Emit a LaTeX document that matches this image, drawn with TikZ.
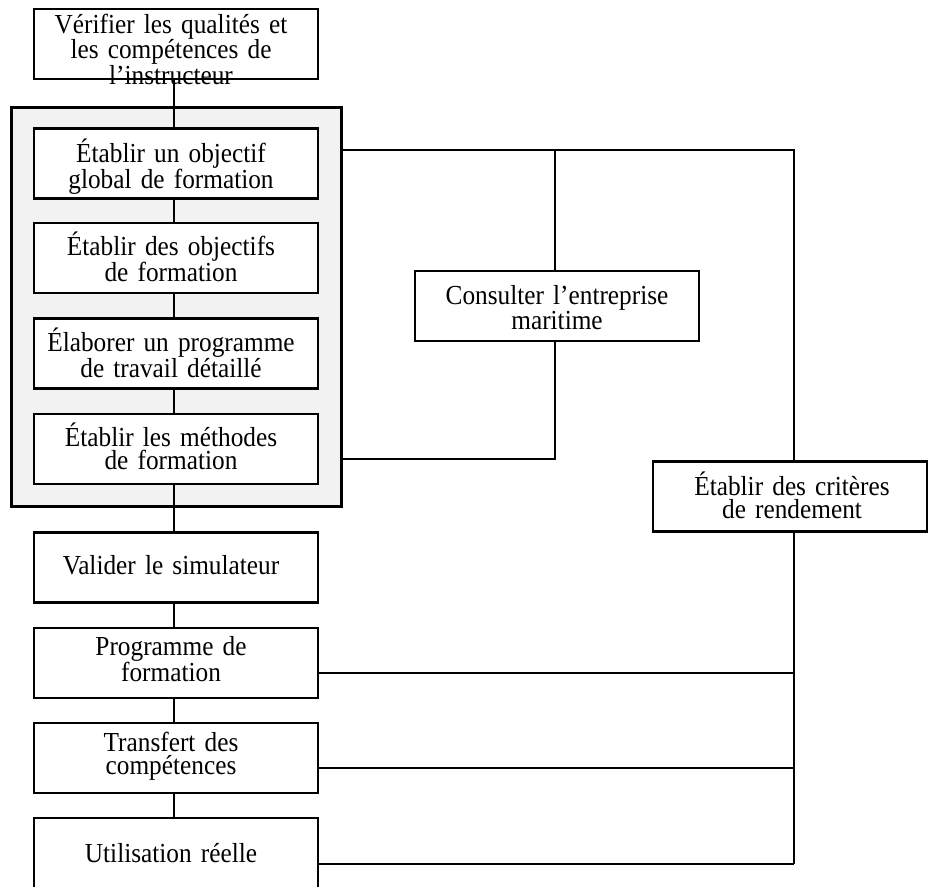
\documentclass[tikz,border=0pt]{standalone}
\usepackage{fontspec}
\setmainfont[FakeStretch=0.92,WordSpace=0.75]{Liberation Serif}
\pgfdeclarelayer{groupbg}
\pgfdeclarelayer{wires}
\pgfsetlayers{groupbg,wires,main}
\begin{document}
\begin{tikzpicture}[x=1pt,y=-1pt,
  box/.style={draw, rectangle, line width=2.9pt, fill=white, minimum width=284pt, minimum height=70pt, inner sep=0pt},
  grp/.style={draw, rectangle, line width=2.9pt, fill=black!5, inner sep=0pt},
  conn/.style={line width=2.4pt},
  txt/.style={text width=330pt, align=center, inner sep=0pt, anchor=base, font=\fontsize{27.5}{23}\selectfont}]
\useasboundingbox (0,0) rectangle (928,886);
% container
\begin{pgfonlayer}{groupbg}
\node[grp, minimum width=330pt, minimum height=399pt] (group) at (176.3,306.9) {};
\end{pgfonlayer}
% boxes
\node[box] (top) at (176,44) {};
\node[box] (b1) at (176,163.5) {};
\node[box] (b2) at (176,258) {};
\node[box] (b3) at (176,353.5) {};
\node[box] (b4) at (176,449) {};
\node[box] (val) at (176,567.5) {};
\node[box] (prog) at (176,663) {};
\node[box] (trans) at (176,758) {};
\node[box, minimum height=72pt] (util) at (176,854) {};
\node[box] (cons) at (557,306) {};
\node[box, minimum width=274pt] (crit) at (790,496.5) {};
% junction coordinates
\coordinate (col) at (174,0);
\coordinate (jA) at (555,150);
\coordinate (jB) at (794,150);
\coordinate (jC) at (555,459);
\coordinate (yP) at (0,673);
\coordinate (yT) at (0,768);
\coordinate (yU) at (0,864);
% connectors
\begin{pgfonlayer}{wires}
\draw[conn] (top.center -| col) -- (b1.center -| col);
\draw[conn] (b1.center -| col) -- (b2.center -| col);
\draw[conn] (b2.center -| col) -- (b3.center -| col);
\draw[conn] (b3.center -| col) -- (b4.center -| col);
\draw[conn] (b4.center -| col) -- (val.center -| col);
\draw[conn] (val.center -| col) -- (prog.center -| col);
\draw[conn] (prog.center -| col) -- (trans.center -| col);
\draw[conn] (trans.center -| col) -- (util.center -| col);
\draw[conn] (group.east |- jA) -- (jB) -- (crit.center -| jB);
\draw[conn] (jA) -- (cons.center -| jA);
\draw[conn] (cons.center -| jA) -- (jC) -- (group.east |- jC);
\draw[conn] (crit.center -| jB) -- (jB |- yU);
\draw[conn] (prog.center |- yP) -- (jB |- yP);
\draw[conn] (trans.center |- yT) -- (jB |- yT);
\draw[conn] (util.center |- yU) -- (jB |- yU);
\end{pgfonlayer}
% texts
\node[txt] (ttop) at (171,33) {Vérifier les qualités et\\les compétences de\\l’instructeur};
\node[txt] (tb1) at (171,162) {Établir un objectif\\global de formation};
\node[txt] (tb2) at (171,255.5) {Établir des objectifs\\de formation};
\node[txt] (tb3) at (171,351.7) {Élaborer un programme\\de travail détaillé};
\node[txt] (tb4) at (171,446.7) {Établir les méthodes\\de formation};
\node[txt] (tval) at (171,574) {Valider le simulateur};
\node[txt] (tprog) at (171,655) {Programme de\\formation};
\node[txt] (ttrans) at (171,751) {Transfert des\\compétences};
\node[txt] (tutil) at (171,862) {Utilisation réelle};
\node[txt] (tcons) at (557,304) {Consulter l’entreprise\\maritime};
\node[txt] (tcrit) at (792,495) {Établir des critères\\de rendement};
\end{tikzpicture}
\end{document}
